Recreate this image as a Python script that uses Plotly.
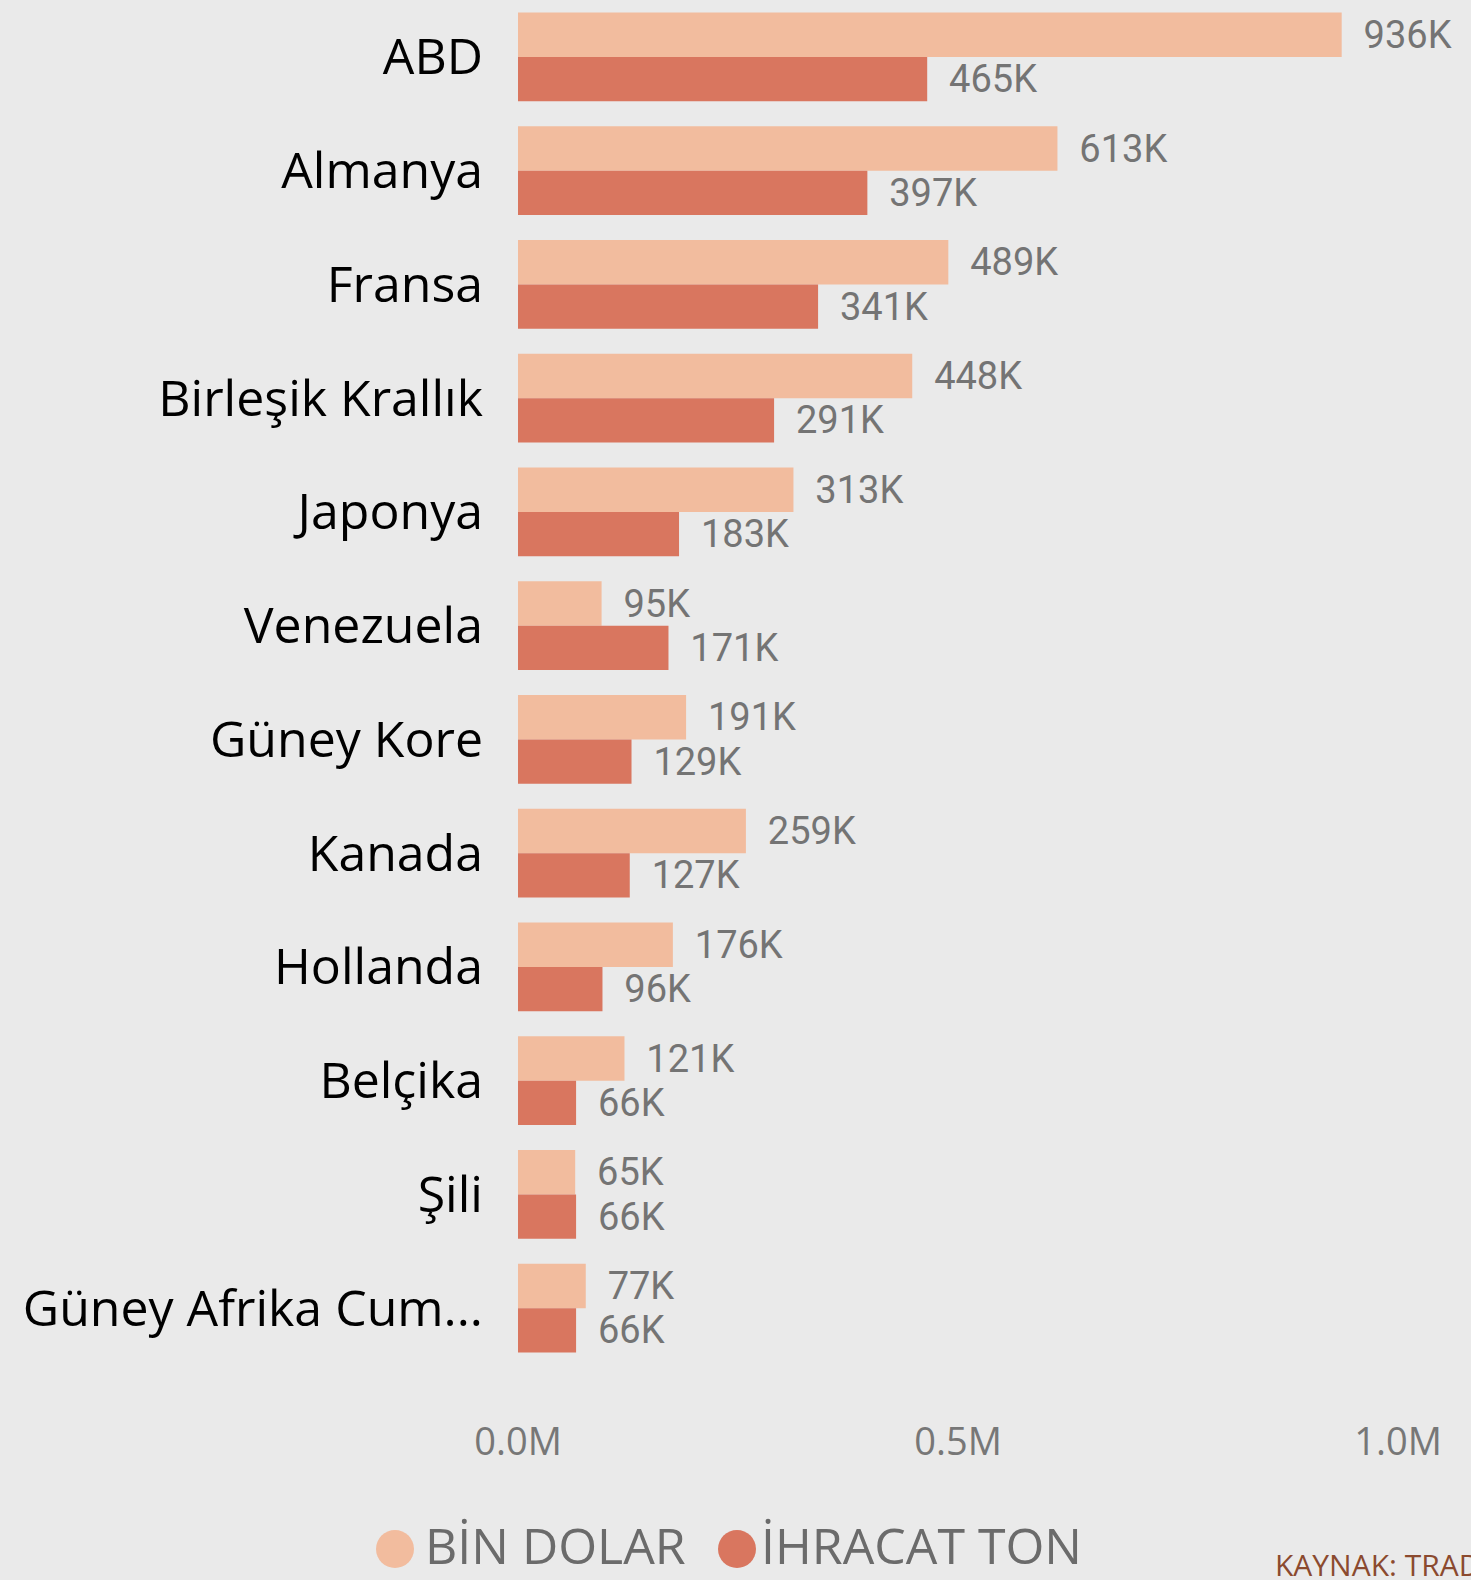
import plotly.graph_objects as go

categories = ["ABD", "Almanya", "Fransa", "Birleşik Krallık", "Japonya", "Venezuela",
              "Güney Kore", "Kanada", "Hollanda", "Belçika", "Şili", "Güney Afrika Cum..."]
bin_dolar = [936000, 613000, 489000, 448000, 313000, 95000,
             191000, 259000, 176000, 121000, 65000, 77000]
ihracat_ton = [465000, 397000, 341000, 291000, 183000, 171000,
               129000, 127000, 96000, 66000, 66000, 66000]
series_names = ["BİN DOLAR", "İHRACAT TON"]
colors = ["#F2BC9E", "#D9765F"]
tick_vals = [0, 500000, 1000000]
tick_text = ["0.0M", "0.5M", "1.0M"]
source_text = "KAYNAK: TRADEMAP"

BG = "#EAEAEA"
LABEL_FONT = dict(family="Roboto, Open Sans, sans-serif", size=42, color="#747474")


def klabel(v):
    return "\u00a0\u00a0" + f"{round(v / 1000)}K"


fig = go.Figure()
for name, vals, col in zip(series_names, [bin_dolar, ihracat_ton], colors):
    fig.add_trace(go.Bar(
        y=categories, x=vals, orientation="h", name=name,
        marker=dict(color=col, line=dict(width=0)),
        text=[klabel(v) for v in vals], textposition="outside",
        textfont=LABEL_FONT, cliponaxis=False, showlegend=False,
        hoverinfo="skip",
    ))

n = len(categories)
fig.update_layout(
    width=1471, height=1580,
    paper_bgcolor=BG, plot_bgcolor=BG,
    margin=dict(l=518, r=73, t=0, b=215),
    barmode="group", bargap=0.22, bargroupgap=0,
    xaxis=dict(range=[0, 1000000], tickvals=tick_vals, ticktext=tick_text,
               showgrid=False, zeroline=False, showline=False,
               ticks="outside", ticklen=43, tickcolor=BG,
               tickfont=dict(family="Open Sans, sans-serif", size=38, color="#777777")),
    yaxis=dict(type="category", range=[n - 0.5, -0.5],
               showgrid=False, zeroline=False, showline=False,
               ticks="outside", ticklen=24, tickcolor=BG,
               tickfont=dict(family="Open Sans, sans-serif", size=50, color="#000000")),
    showlegend=False,
)

# custom legend: circles + text
legend_y = -(1545 - 1365) / 1365
legend_items = [(395, 423), (737, 759)]
for (cx, tx), name, col in zip(legend_items, series_names, colors):
    fig.add_shape(type="circle", xref="paper", yref="paper",
                  xsizemode="pixel", ysizemode="pixel",
                  xanchor=(cx - 518) / 880, yanchor=-(1549 - 1365) / 1365,
                  x0=-19, x1=19, y0=-19, y1=19,
                  fillcolor=col, line=dict(width=0))
    fig.add_annotation(text=name, xref="paper", yref="paper",
                       x=(tx - 518) / 880, y=legend_y,
                       xanchor="left", yanchor="middle", showarrow=False,
                       font=dict(family="Open Sans, sans-serif", size=50, color="#6B6B6B"))

fig.add_annotation(text=source_text, xref="paper", yref="paper",
                   x=(1273 - 518) / 880, y=-(1564 - 1365) / 1365,
                   xanchor="left", yanchor="middle", showarrow=False,
                   font=dict(family="Open Sans, sans-serif", size=30, color="#8B4A2F"))

fig.write_html("out.html",
               config={"displayModeBar": False},
               post_script="document.body.style.margin='0';document.body.style.overflow='hidden';")
